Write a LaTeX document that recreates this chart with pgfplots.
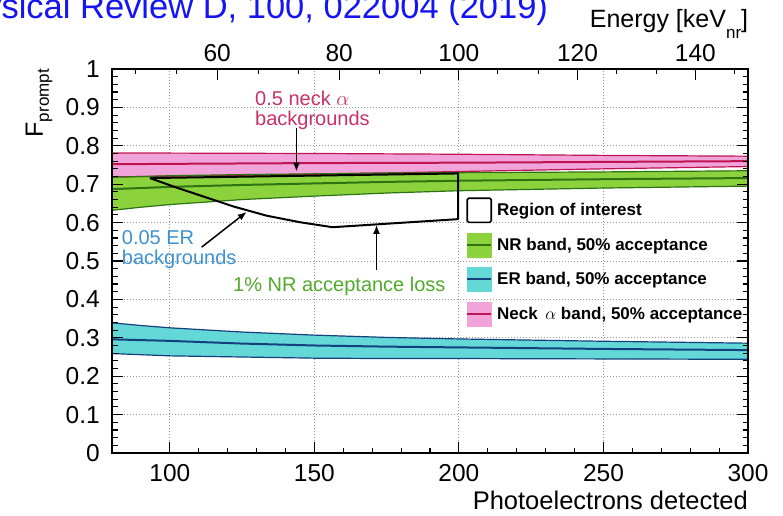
\documentclass[border=0pt]{standalone}
\usepackage{pgfplots}
\pgfplotsset{compat=1.18}
\usepackage{pgfplotstable}
\usepgfplotslibrary{fillbetween}
\usetikzlibrary{arrows.meta}
\usepackage{fontspec}
\setmainfont{Liberation Sans}

\definecolor{neckfill}{RGB}{240,164,218}
\definecolor{neckline}{RGB}{190,20,80}
\definecolor{nrfill}{RGB}{140,210,60}
\definecolor{nrline}{RGB}{45,115,20}
\definecolor{erfill}{RGB}{100,215,215}
\definecolor{erline}{RGB}{20,65,125}
\definecolor{necktext}{RGB}{200,50,100}
\definecolor{ertext}{RGB}{60,145,210}
\definecolor{nrtext}{RGB}{80,170,45}
\definecolor{titleblue}{RGB}{20,20,245}
\definecolor{gridgray}{RGB}{150,150,150}

% 50% acceptance bands: lower edge, median, upper edge
\pgfplotstableread{
x    lo    mid   hi
80   0.719 0.752 0.781
100  0.721 0.753 0.781
150  0.726 0.755 0.780
200  0.733 0.756 0.778
250  0.740 0.758 0.775
300  0.746 0.760 0.773
}\neckband

\pgfplotstableread{
x    lo    mid   hi
80   0.632 0.687 0.718
90   0.640 0.690 0.720
100  0.647 0.693 0.722
125  0.660 0.698 0.725
150  0.669 0.702 0.727
175  0.677 0.706 0.729
200  0.683 0.709 0.730
250  0.690 0.713 0.732
300  0.695 0.716 0.735
}\nrband

\pgfplotstableread{
x    lo    mid   hi
80   0.259 0.296 0.339
90   0.256 0.294 0.332
100  0.253 0.292 0.326
125  0.250 0.285 0.315
150  0.247 0.280 0.307
175  0.246 0.277 0.301
200  0.246 0.275 0.297
250  0.245 0.271 0.291
300  0.244 0.268 0.286
}\erband

\begin{document}
\begin{tikzpicture}
\begin{axis}[
  set layers,
  at={(112pt,62pt)}, anchor=south west,
  scale only axis, width=636pt, height=384pt,
  xmin=80, xmax=300, ymin=0, ymax=1,
  xtick={100,150,200,250,300},
  minor x tick num=4,
  ytick={0,0.1,...,1.0},
  minor y tick num=4,
  xtick pos=left, ytick pos=left,
  tick align=inside,
  major tick length=11pt, minor tick length=5.5pt,
  tick style={black, line width=1.1pt},
  axis line style={line width=1.5pt},
  grid=major,
  grid style={gridgray, line width=0.9pt, dash pattern=on 1pt off 2pt},
  /pgf/number format/assume math mode=true,
  tick label style={font=\fontsize{24.5}{28}\selectfont},
  xticklabel style={inner sep=0pt, anchor=north, yshift=-11pt},
  yticklabel style={inner sep=0pt, anchor=east, xshift=-12pt, /pgf/number format/fixed},
  xlabel={Photoelectrons detected},
  ylabel={F\raisebox{-6pt}{\fontsize{17}{17}\selectfont prompt}},
  every axis x label/.style={at={(axis description cs:1,0)}, anchor=base east,
    yshift=-56.3pt, inner sep=0pt, font=\fontsize{25.5}{30}\selectfont},
  every axis y label/.style={at={(axis description cs:-0.1085,1)}, rotate=90,
    anchor=base east, inner sep=0pt, font=\fontsize{25}{30}\selectfont},
  legend cell align=left,
  legend style={at={(0.5566,0.6659)}, anchor=north west, draw=none, fill=none,
    inner sep=0pt, row sep=9.9pt, column sep=5pt, nodes={inner sep=0pt},
    font=\fontsize{17}{20}\selectfont\bfseries},
]
% legend entries
\addlegendimage{legend image code/.code={
  \draw[black, line width=1.6pt, rounded corners=1.5pt, fill=white] (0pt,-12pt) rectangle (24pt,12pt);}}
\addlegendentry{Region of interest}
\addlegendimage{legend image code/.code={
  \fill[nrfill] (0pt,-12pt) rectangle (24pt,12pt);
  \draw[nrline, line width=2pt] (0pt,0pt) -- (24pt,0pt);}}
\addlegendentry{NR band, 50\% acceptance}
\addlegendimage{legend image code/.code={
  \fill[erfill] (0pt,-12pt) rectangle (24pt,12pt);
  \draw[erline, line width=2pt] (0pt,0pt) -- (24pt,0pt);}}
\addlegendentry{ER band, 50\% acceptance}
\addlegendimage{legend image code/.code={
  \fill[neckfill] (0pt,-12pt) rectangle (24pt,12pt);
  \draw[neckline, line width=2pt] (0pt,0pt) -- (24pt,0pt);}}
\addlegendentry{Neck\, $\alpha$ band, 50\% acceptance}

% neck alpha band
\addplot[name path=nklo, draw=neckline, line width=1.2pt] table[x=x, y=lo] {\neckband};
\addplot[name path=nkhi, draw=neckline, line width=1.2pt] table[x=x, y=hi] {\neckband};
\addplot[fill=neckfill, draw=none] fill between[of=nkhi and nklo];
\addplot[draw=neckline, line width=2pt] table[x=x, y=mid] {\neckband};

% nuclear recoil band
\addplot[name path=nrlo, draw=nrline, line width=1.2pt] table[x=x, y=lo] {\nrband};
\addplot[name path=nrhi, draw=nrline, line width=1.2pt] table[x=x, y=hi] {\nrband};
\addplot[fill=nrfill, draw=none] fill between[of=nrhi and nrlo];
\addplot[draw=nrline, line width=2pt] table[x=x, y=mid] {\nrband};

% electron recoil band
\addplot[name path=erlo, draw=erline, line width=1.2pt] table[x=x, y=lo] {\erband};
\addplot[name path=erhi, draw=erline, line width=1.2pt] table[x=x, y=hi] {\erband};
\addplot[fill=erfill, draw=none] fill between[of=erhi and erlo];
\addplot[draw=erline, line width=2pt] table[x=x, y=mid] {\erband};

% region of interest
\addplot[black, line width=2pt, line join=round] coordinates {
  (93.1,0.716) (102.4,0.691) (110.4,0.671) (122,0.642) (133.5,0.618)
  (145,0.601) (156.3,0.588) (199.7,0.609) (199.7,0.728) (93.1,0.716)};

% annotation arrows
\draw[-{Latex[length=9pt,width=7pt]}, line width=1.5pt] (axis cs:143.8,0.846) -- (axis cs:143.8,0.733);
\draw[-{Latex[length=9pt,width=7pt]}, line width=1.5pt] (axis cs:111.0,0.536) -- (axis cs:126.6,0.628);
\draw[-{Latex[length=9pt,width=7pt]}, line width=1.5pt] (axis cs:171.5,0.477) -- (axis cs:171.5,0.594);
\end{axis}

% frame, y ticks on both sides and the recoil-energy scale on top
\begin{axis}[
  at={(112pt,62pt)}, anchor=south west,
  scale only axis, width=636pt, height=384pt,
  xmin=80, xmax=300, ymin=0, ymax=1,
  xtick={116.4,158.6,200.0,241.0,281.8},
  xticklabels={60,80,100,120,140},
  minor xtick={88.0,102.4,130.6,144.6,172.6,186.7,213.5,227.4,254.4,268.3,295.3},
  ytick={0,0.1,...,1.0}, yticklabels={},
  minor y tick num=4,
  xtick pos=right, xticklabel pos=right,
  ytick pos=both,
  tick align=inside,
  major tick length=11pt, minor tick length=5.5pt,
  tick style={black, line width=1.1pt},
  axis line style={line width=1.5pt},
  xticklabel style={inner sep=0pt, anchor=south, yshift=7.3pt, font=\fontsize{24.5}{28}\selectfont},
]
\end{axis}

\begin{scope}[x=1pt, y=-1pt, shift={(0pt,515pt)}]
  \node[anchor=base east, inner sep=0pt, text=titleblue, font=\fontsize{34.5}{40}\selectfont]
    at (548.3,18.5) {Physical Review D, 100, 022004 (2019)};
  \node[anchor=base east, inner sep=0pt, font=\fontsize{25}{30}\selectfont]
    at (748.3,27.3) {Energy [keV\raisebox{-11pt}{\fontsize{17}{17}\selectfont nr}]};
  \begin{scope}[every node/.style={anchor=base west, inner sep=0pt, font=\fontsize{20}{20}\selectfont}]
    \node[text=necktext] at (255,106) {0.5 neck $\alpha$};
    \node[text=necktext] at (255,125.7) {backgrounds};
    \node[text=ertext] at (121.7,244) {0.05 ER};
    \node[text=ertext] at (121.7,264) {backgrounds};
    \node[text=nrtext] at (233,291) {1\% NR acceptance loss};
  \end{scope}
\end{scope}

\pgfresetboundingbox
\useasboundingbox (0,0) rectangle (783pt,515pt);
\end{tikzpicture}
\end{document}
